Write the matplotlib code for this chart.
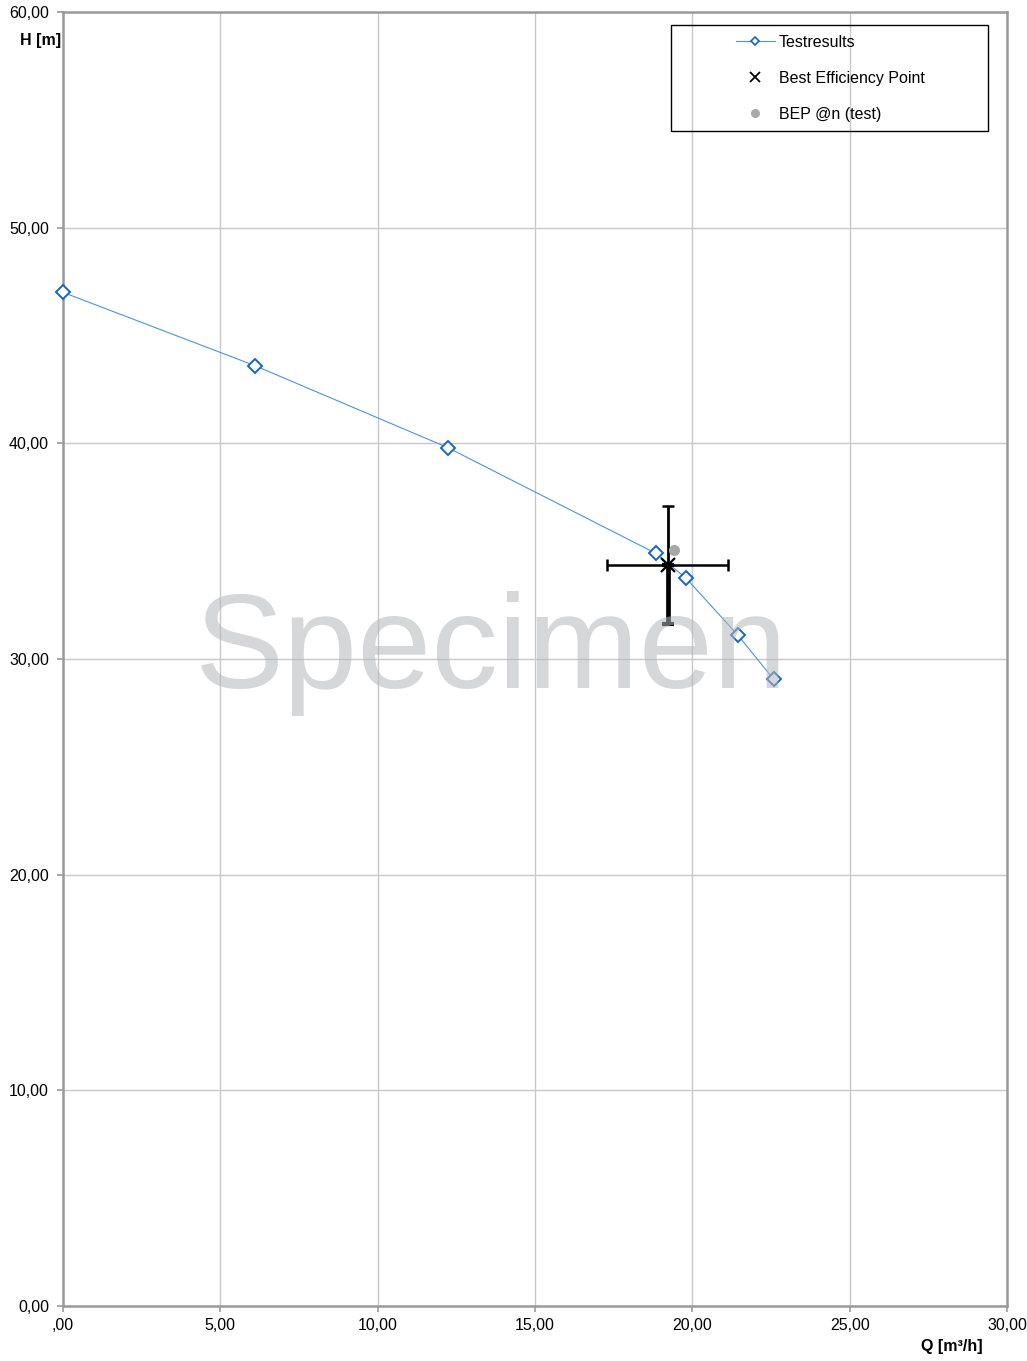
import matplotlib
matplotlib.use("Agg")
import matplotlib.pyplot as plt
from matplotlib.ticker import FuncFormatter, MultipleLocator
from matplotlib.patches import Rectangle

plt.rcParams['font.family'] = ['Liberation Sans', 'DejaVu Sans']

# Data
q_test = [0.0, 6.10, 12.23, 18.84, 19.80, 21.45, 22.59]
h_test = [47.0, 43.6, 39.8, 34.9, 33.75, 31.1, 29.05]
q_bep = [19.22]
h_bep = [34.35]
q_bep_err = [1.92]
h_bep_err_up = [2.74]
h_bep_err_low = [2.73]
q_bep_n = [19.42]
h_bep_n = [35.05]

W, H = 1027, 1361
fig = plt.figure(figsize=(W/100, H/100), dpi=100)
ax = fig.add_axes([63/W, 1-1306/H, (1007-63)/W, (1306-12)/H])

ax.set_xlim(0, 30)
ax.set_ylim(0, 60)
ax.xaxis.set_major_locator(MultipleLocator(5))
ax.yaxis.set_major_locator(MultipleLocator(10))

def xfmt(v, pos):
    s = f"{v:.2f}".replace('.', ',')
    if s.startswith('0,'):
        s = s[1:]
    return s

def yfmt(v, pos):
    return f"{v:.2f}".replace('.', ',')

ax.xaxis.set_major_formatter(FuncFormatter(xfmt))
ax.yaxis.set_major_formatter(FuncFormatter(yfmt))

ax.grid(True, color='#c8c8c8', lw=1.0, zorder=0)
ax.set_axisbelow(True)
for s in ['left', 'bottom', 'right', 'top']:
    ax.spines[s].set_color('#9a9a9a')
    ax.spines[s].set_linewidth(1.8)
ax.tick_params(axis='both', colors='#9a9a9a', labelcolor='black', labelsize=11.5,
               length=4, width=1.2, direction='out')
ax.tick_params(axis='x', pad=5)
ax.tick_params(axis='y', pad=6)

ax.plot(q_test, h_test, color='#4a93e6', lw=0.8, marker='D', ms=7.5,
        mfc='white', mec='#1565c8', mew=1.4, label='Testresults', zorder=3,
        clip_on=False)

ax.errorbar(q_bep, h_bep, xerr=q_bep_err, fmt='none', ecolor='black',
            elinewidth=1.8, capsize=4, capthick=1.8, zorder=4)
ax.errorbar(q_bep, h_bep, yerr=[[0], h_bep_err_up], fmt='none', ecolor='black',
            elinewidth=2.0, capsize=4, capthick=1.8, zorder=4)
ax.errorbar(q_bep, h_bep, yerr=[h_bep_err_low, [0]], fmt='none', ecolor='black',
            elinewidth=3.4, capsize=4, capthick=3.0, zorder=4)
ax.plot(q_bep, h_bep, ls='none', marker='x', ms=10, mew=1.6, color='black',
        label='Best Efficiency Point', zorder=5)
ax.plot(q_bep_n, h_bep_n, ls='none', marker='o', ms=7, color='#a8a8a8',
        mec='#a8a8a8', label='BEP @n (test)', zorder=5)

# Watermark
ax.text(13.62, 28.65, 'Specimen', fontsize=96, color='#b4b6ba', alpha=0.55,
        ha='center', va='baseline', zorder=10, family='Liberation Sans')

leg = fig.legend(*ax.get_legend_handles_labels(), loc='upper left',
                 bbox_to_anchor=(736/W, 1-35/H), bbox_transform=fig.transFigure,
                 fontsize=11.5, frameon=False, borderpad=0, borderaxespad=0,
                 labelspacing=1.30, handlelength=2.44, handletextpad=0.25)
hs = leg.legend_handles
hs[0].set_markersize(4.5)
hs[0].set_markeredgewidth(1.2)
hs[1].set_markersize(6.5)
hs[1].set_markeredgewidth(1.3)
hs[2].set_markersize(5.5)

fig.add_artist(Rectangle((671/W, 1-131/H), 317/W, 106/H, transform=fig.transFigure,
                         fill=False, edgecolor='black', lw=1.0))

fig.text(20/W, 1-40/H, 'H [m]', fontsize=11.5, fontweight='bold',
         ha='left', va='center')
fig.text(983/W, 1-1347/H, 'Q [m³/h]', fontsize=11.5, fontweight='bold',
         ha='right', va='center')

fig.savefig('out.png', dpi=100)
